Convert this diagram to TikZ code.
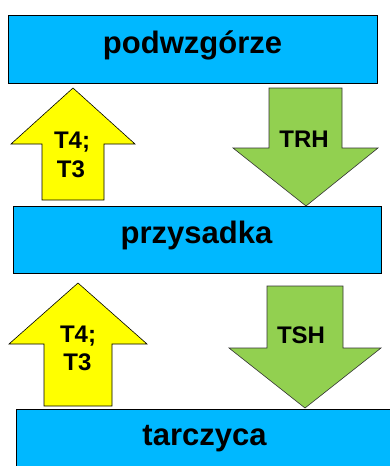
\documentclass[tikz,border=0pt]{standalone}
\usepackage{fontspec}
\setmainfont{Liberation Sans}
\definecolor{boxblue}{RGB}{0,184,255}
\definecolor{arrgreen}{RGB}{146,208,80}
\definecolor{arryellow}{RGB}{255,255,0}
\begin{document}
\begin{tikzpicture}[x=1pt,y=-1pt,
  box/.style={fill=boxblue, draw=black, line width=0.8pt},
  uparrow/.style={fill=arryellow, draw=black, line width=0.6pt, line join=miter},
  downarrow/.style={fill=arrgreen, draw=black!80, line width=0.6pt, line join=miter},
  big/.style={font=\fontsize{31}{37}\selectfont\bfseries, anchor=base, inner sep=0pt},
  small/.style={font=\fontsize{24}{29}\selectfont\bfseries, anchor=base, inner sep=0pt}]
\useasboundingbox (0,0) rectangle (390,466);
\clip (0,0) rectangle (390,466);
% boxes
\draw[box] (8,15) rectangle (377,83);
\draw[box] (13,206) rectangle (381,273);
\draw[box] (16,409) rectangle (396,472);
% arrows
\draw[uparrow] (42,200) -- (42,144) -- (11,144) -- (73,88) -- (135,144) -- (104,144) -- (104,200) -- cycle;
\draw[downarrow] (269,88) -- (342,88) -- (342,148) -- (378,148) -- (306,206) -- (233,148) -- (269,148) -- cycle;
\draw[uparrow] (44,406) -- (44,344) -- (9,344) -- (78,283) -- (147,344) -- (112,344) -- (112,406) -- cycle;
\draw[downarrow] (267,286) -- (343,286) -- (343,348) -- (381,348) -- (305,408) -- (229,348) -- (267,348) -- cycle;
% labels
\node[big] (hyp) at (192.5,53) {podwzgórze};
\node[big] (pit) at (196.5,243) {przysadka};
\node[big] (thy) at (204.5,445) {tarczyca};
\node[small] (trh) at (304,147) {TRH};
\node[small] (tsh) at (301,343) {TSH};
\node[small] (tfa) at (72,148) {T4;};
\node[small] (tfb) at (71,177) {T3};
\node[small] (tfc) at (78,342) {T4;};
\node[small] (tfd) at (77.5,370) {T3};
\end{tikzpicture}
\end{document}
